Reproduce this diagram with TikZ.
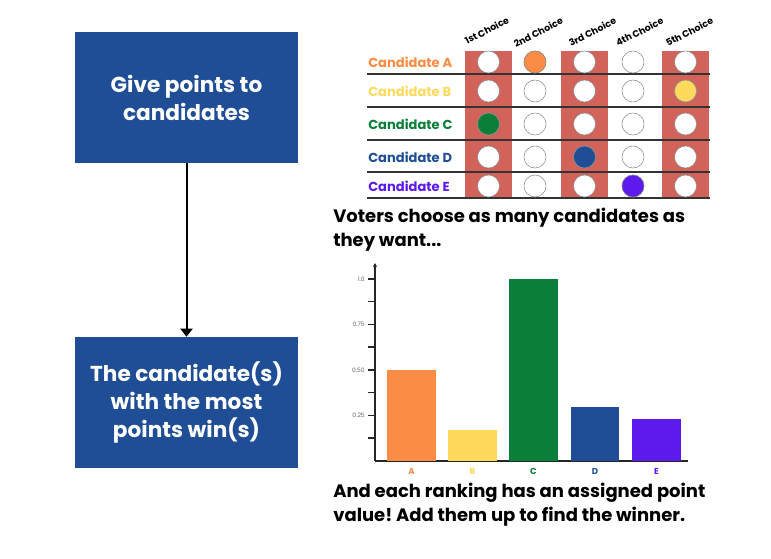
\documentclass[tikz,border=0pt]{standalone}
\usepackage{fontspec}
\setmainfont{Poppins}
\usetikzlibrary{positioning,arrows.meta}
\frenchspacing

\definecolor{boxblue}{RGB}{31,78,150}
\definecolor{colred}{RGB}{210,99,91}
\definecolor{candA}{RGB}{250,140,70}
\definecolor{candB}{RGB}{255,217,92}
\definecolor{candC}{RGB}{11,127,58}
\definecolor{candD}{RGB}{31,78,150}
\definecolor{candE}{RGB}{92,26,236}

\begin{document}
\begin{tikzpicture}[
  x=0.75pt, y=-0.75pt,
  font=\bfseries,
  stepbox/.style = {
    rectangle, fill=boxblue, text=white, align=center,
    minimum width=167.25pt, minimum height=98.25pt,
    font=\bfseries\fontsize{16.2}{21}\selectfont,
  },
  arrow/.style = {-{Triangle[length=6pt,width=9pt]}, line width=1.5pt, draw=black},
  cand/.style = {anchor=west, inner sep=0pt, font=\bfseries\fontsize{9.8}{10}\selectfont},
  choice/.style = {anchor=south west, inner sep=0pt, rotate=27,
    font=\bfseries\fontsize{7}{8}\selectfont},
  dot/.style = {circle, minimum size=16.5pt, inner sep=0pt, draw=black!45, line width=0.4pt, fill=white},
  rowline/.style = {draw=black!80, line width=1.2pt},
  caption/.style = {anchor=north west, inner sep=0pt, align=left,
    font=\bfseries\fontsize{13.5}{17.5}\selectfont},
  axisline/.style = {draw=black!85, line width=1pt},
  ticklabel/.style = {anchor=east, inner sep=0pt, text=black!60,
    font=\mdseries\fontsize{4.5}{5}\selectfont},
  barlabel/.style = {anchor=north, inner sep=0pt, font=\bfseries\fontsize{6.5}{7}\selectfont},
]
  \useasboundingbox (0,0) rectangle (771,558);

  % left flow
  \node[stepbox] (give) at (186.5,97.5) {Give points to\\candidates};
  \node[stepbox] (win) at (186.5,402.5) {The candidate(s)\\with the most\\points win(s)};
  \draw[arrow] (give) -- (win);

  % ballot grid
  \fill[colred] (465,51) rectangle (512,198);
  \fill[colred] (561,51) rectangle (608,198);
  \fill[colred] (662,51) rectangle (709,198);
  \foreach \y in {74,107,140,172,198}
    \draw[rowline] (367,\y) -- (710,\y);

  \node[choice] (ch1) at (467,45) {1st Choice};
  \node[choice] (ch2) at (516,48) {2nd Choice};
  \node[choice] (ch3) at (571,47) {3rd Choice};
  \node[choice] (ch4) at (618,47) {4th Choice};
  \node[choice] (ch5) at (668,47) {5th Choice};

  \node[cand, text=candA] (ca) at (368,62) {Candidate A};
  \node[cand, text=candB] (cb) at (368,91) {Candidate B};
  \node[cand, text=candC] (cc) at (368,124) {Candidate C};
  \node[cand, text=candD] (cd) at (368,157) {Candidate D};
  \node[cand, text=candE] (ce) at (368,186) {Candidate E};

  \foreach \y/\r in {62/a,91/b,124/c,157/d,186/e}
    \foreach \x/\c in {488.5/1,535/2,584.5/3,633/4,685.5/5}
      \node[dot] (dot\r\c) at (\x,\y) {};
  \node[dot, fill=candA] at (dota2) {};
  \node[dot, fill=candB] at (dotb5) {};
  \node[dot, fill=candC] at (dotc1) {};
  \node[dot, fill=candD] at (dotd3) {};
  \node[dot, fill=candE] at (dote4) {};

  \node[caption] (voters) at (333,208) {Voters choose as many candidates as\\they want...};

  % point chart
  \coordinate (origin) at (375,461);
  \coordinate (ytop) at (375,263);
  \coordinate (xend) at (688,461);
  \draw[axisline, -{Stealth[length=3pt,width=3pt]}] (origin) -- (ytop);
  \draw[axisline] (origin) -- (xend);
  \foreach \y in {279,301.5,324.5,347,370,392.5,415.5,438}
    \draw[axisline, line width=0.8pt] (368,\y) -- (375,\y);
  \node[ticklabel] (t100) at (365,279) {1.0};
  \node[ticklabel] (t075) at (365,324.5) {0.75};
  \node[ticklabel] (t050) at (365,370) {0.50};
  \node[ticklabel] (t025) at (365,415.5) {0.25};

  \fill[candA] (387,461) rectangle (436,370);
  \fill[candB] (448,461) rectangle (497,430);
  \fill[candC] (509,461) rectangle (558,279);
  \fill[candD] (571,461) rectangle (619,407);
  \fill[candE] (632,461) rectangle (681,419);
  \node[barlabel, text=candA] (la) at (411.5,468) {A};
  \node[barlabel, text=candB] (lb) at (472.5,468) {B};
  \node[barlabel, text=candC] (lc) at (533.5,468) {C};
  \node[barlabel, text=candD] (ld) at (595,468) {D};
  \node[barlabel, text=candE] (le) at (656.5,468) {E};

  \node[caption] (ranking) at (333,483) {And each ranking has an assigned point\\value! Add them up to find the winner.};
\end{tikzpicture}
\end{document}
